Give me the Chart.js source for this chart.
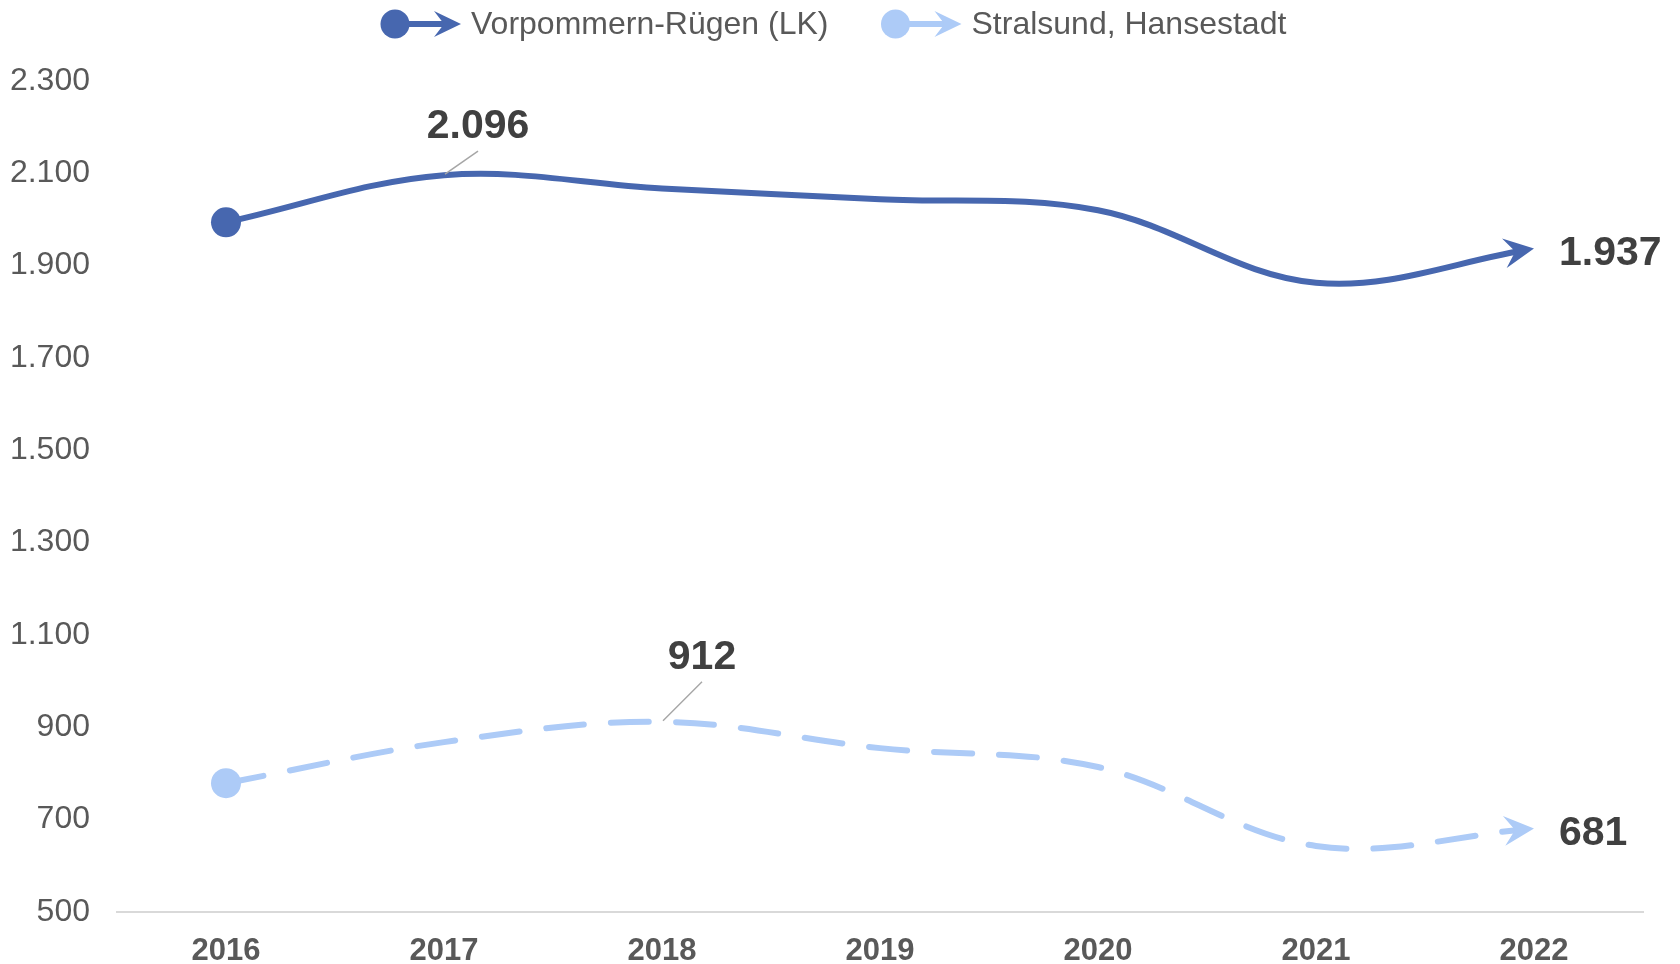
<!DOCTYPE html>
<html lang="de">
<head>
<meta charset="utf-8">
<title>Vorpommern-Rügen (LK) und Stralsund, Hansestadt 2016–2022</title>
<script src="https://cdn.jsdelivr.net/npm/chart.js@4.4.1/dist/chart.umd.min.js"></script>
<style>
  html, body { margin: 0; padding: 0; background: #ffffff; }
  #wrap { position: relative; width: 1680px; height: 964px; }
</style>
</head>
<body>
<div id="wrap"><canvas id="chart"></canvas></div>
<script>
// values
const years = ['2016', '2017', '2018', '2019', '2020', '2021', '2022'];
const vorpommernRuegen = [1994, 2096, 2067, 2044, 2020, 1863, 1937];
const stralsund = [779, 868, 912, 855, 814, 643, 681];
const seriesNames = ['Vorpommern-Rügen (LK)', 'Stralsund, Hansestadt'];
const yTicks = [500, 700, 900, 1100, 1300, 1500, 1700, 1900, 2100, 2300];

const FONT = '"Liberation Sans", Arial, sans-serif';
const DARK_BLUE = '#4767AF';
const LIGHT_BLUE = '#ADCBF7';
const TICK_COLOR = '#595959';
const VALUE_COLOR = '#404040';

// where the peak label sits relative to its point (per dataset)
const peakLabelOffset = [
  { dx: 34, dy: -52 },
  { dx: 40, dy: -68 }
];

Chart.defaults.font.family = FONT;

function fmt(v) {
  // German thousands separator
  return String(Math.round(v)).replace(/\B(?=(\d{3})+(?!\d))/g, '.');
}

function arrowPath(ctx, x, y, ux, uy, len, half, notch) {
  const nx = -uy, ny = ux;
  ctx.beginPath();
  ctx.moveTo(x, y);
  ctx.lineTo(x - len * ux + half * nx, y - len * uy + half * ny);
  ctx.lineTo(x - notch * ux, y - notch * uy);
  ctx.lineTo(x - len * ux - half * nx, y - len * uy - half * ny);
  ctx.closePath();
}

// end tangent of the chart.js spline = direction previous point -> last point
function endDirection(meta) {
  const pts = meta.data;
  const tip = pts[pts.length - 1];
  const prev = pts[pts.length - 2];
  const dx = tip.x - prev.x, dy = tip.y - prev.y;
  const l = Math.hypot(dx, dy) || 1;
  return { x: tip.x, y: tip.y, ux: dx / l, uy: dy / l };
}

const arrowEndPlugin = {
  id: 'arrowEnd',
  beforeDatasetDraw(chart, args) {
    const g = endDirection(args.meta);
    const ctx = chart.ctx;
    const nx = -g.uy, ny = g.ux;
    ctx.save();
    ctx.beginPath();
    ctx.rect(0, 0, chart.width, chart.height);
    // cut the stroke out near the tip, the arrow head covers the rest
    const back = 12, front = 14, w = 9;
    ctx.moveTo(g.x - back * g.ux + w * nx, g.y - back * g.uy + w * ny);
    ctx.lineTo(g.x + front * g.ux + w * nx, g.y + front * g.uy + w * ny);
    ctx.lineTo(g.x + front * g.ux - w * nx, g.y + front * g.uy - w * ny);
    ctx.lineTo(g.x - back * g.ux - w * nx, g.y - back * g.uy - w * ny);
    ctx.closePath();
    ctx.clip('evenodd');
  },
  afterDatasetDraw(chart, args) {
    const ctx = chart.ctx;
    ctx.restore();
    const g = endDirection(args.meta);
    ctx.save();
    ctx.fillStyle = chart.data.datasets[args.index].borderColor;
    arrowPath(ctx, g.x, g.y, g.ux, g.uy, 30, 15, 19);
    ctx.fill();
    ctx.restore();
  }
};

const valueLabelPlugin = {
  id: 'valueLabels',
  afterDatasetsDraw(chart) {
    const ctx = chart.ctx;
    ctx.save();
    ctx.font = `bold 41px ${FONT}`;
    ctx.fillStyle = VALUE_COLOR;
    ctx.textBaseline = 'middle';
    chart.data.datasets.forEach((ds, i) => {
      const meta = chart.getDatasetMeta(i);
      const vals = ds.data;
      let maxIdx = 0;
      vals.forEach((v, j) => { if (v > vals[maxIdx]) maxIdx = j; });

      // peak label with a leader line
      const p = meta.data[maxIdx];
      const off = peakLabelOffset[i];
      const lx = p.x + off.dx, ly = p.y + off.dy;
      ctx.strokeStyle = '#A6A6A6';
      ctx.lineWidth = 1.5;
      ctx.beginPath();
      ctx.moveTo(p.x + 1, p.y - 1);
      ctx.lineTo(lx, ly + 28);
      ctx.stroke();
      ctx.textAlign = 'center';
      ctx.fillText(fmt(vals[maxIdx]), lx, ly + 3.5);

      // last value to the right of the arrow
      const last = meta.data[vals.length - 1];
      ctx.textAlign = 'left';
      ctx.fillText(fmt(vals[vals.length - 1]), last.x + 25, last.y + 5);
    });
    ctx.restore();
  }
};

const legendBox = { left: 380, y: 24, gap: 52 };

const arrowLegendPlugin = {
  id: 'arrowLegend',
  afterDraw(chart) {
    const ctx = chart.ctx;
    const y = legendBox.y;
    let x = legendBox.left;
    ctx.save();
    ctx.font = `32px ${FONT}`;
    ctx.textBaseline = 'middle';
    ctx.textAlign = 'left';
    chart.data.datasets.forEach((ds) => {
      const color = ds.borderColor;
      ctx.strokeStyle = color;
      ctx.fillStyle = color;
      ctx.lineWidth = 6;
      ctx.beginPath();
      ctx.moveTo(x + 15, y);
      ctx.lineTo(x + 68, y);
      ctx.stroke();
      ctx.beginPath();
      ctx.arc(x + 15, y, 14.5, 0, Math.PI * 2);
      ctx.fill();
      arrowPath(ctx, x + 81, y, 1, 0, 27, 13, 17);
      ctx.fill();
      ctx.fillStyle = TICK_COLOR;
      ctx.fillText(ds.label, x + 91, y + 1);
      x += 91 + ctx.measureText(ds.label).width + legendBox.gap;
    });
    ctx.restore();
  }
};

const firstPointOnly = (r) => (ctx) => (ctx.dataIndex === 0 ? r : 0);

const config = {
  type: 'line',
  data: {
    labels: years,
    datasets: [
      {
        label: seriesNames[0],
        data: vorpommernRuegen,
        borderColor: DARK_BLUE,
        backgroundColor: DARK_BLUE,
        borderWidth: 6,
        borderCapStyle: 'round',
        tension: 0.36,
        pointRadius: firstPointOnly(15),
        pointHoverRadius: firstPointOnly(15),
        pointBorderWidth: 0,
        pointBackgroundColor: DARK_BLUE,
        fill: false
      },
      {
        label: seriesNames[1],
        data: stralsund,
        borderColor: LIGHT_BLUE,
        backgroundColor: LIGHT_BLUE,
        borderWidth: 6,
        borderDash: [38, 27],
        borderCapStyle: 'round',
        tension: 0.36,
        pointRadius: firstPointOnly(15),
        pointHoverRadius: firstPointOnly(15),
        pointBorderWidth: 0,
        pointBackgroundColor: LIGHT_BLUE,
        fill: false
      }
    ]
  },
  options: {
    responsive: true,
    maintainAspectRatio: false,
    animation: false,
    events: [],
    layout: { padding: { top: 81, left: 10, right: 37, bottom: 0 } },
    plugins: {
      legend: { display: false },
      title: { display: false },
      tooltip: { enabled: false }
    },
    scales: {
      x: {
        type: 'category',
        offset: true,
        grid: { display: false, drawTicks: false },
        border: { display: true, color: '#D9D9D9', width: 2 },
        afterFit: (axis) => { axis.height = 52; },
        ticks: {
          color: TICK_COLOR,
          padding: 24,
          font: { size: 31, weight: 'bold', lineHeight: 1 },
          maxRotation: 0
        }
      },
      y: {
        min: yTicks[0],
        max: yTicks[yTicks.length - 1],
        afterBuildTicks: (axis) => { axis.ticks = yTicks.map((v) => ({ value: v })); },
        afterFit: (axis) => { axis.width = 107; },
        grid: { display: false, drawTicks: false },
        border: { display: false },
        ticks: {
          color: TICK_COLOR,
          padding: 27,
          font: { size: 32 },
          callback: (v) => fmt(v)
        }
      }
    }
  },
  plugins: [arrowEndPlugin, valueLabelPlugin, arrowLegendPlugin]
};

new Chart(document.getElementById('chart'), config);
</script>
</body>
</html>
